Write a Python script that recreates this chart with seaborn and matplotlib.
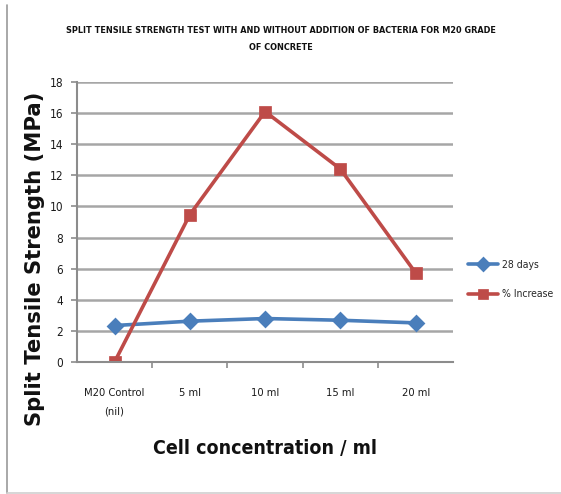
import matplotlib
matplotlib.use("Agg")
import matplotlib.pyplot as plt
from matplotlib.lines import Line2D
import seaborn as sns
import pandas as pd

# Split tensile strength results for M20 concrete with bacterial cells
categories = ["M20 Control\n(nil)", "5 ml", "10 ml", "15 ml", "20 ml"]
strength_28_days = [2.35, 2.63, 2.8, 2.69, 2.52]
percent_increase = [0.0, 9.47, 16.1, 12.41, 5.73]
series_names = ["28 days", "% Increase"]

df = pd.DataFrame({
    "conc": categories * 2,
    "value": strength_28_days + percent_increase,
    "series": [series_names[0]] * 5 + [series_names[1]] * 5,
})

sns.set_style("white")

fig = plt.figure(figsize=(5.61, 4.94), dpi=100)
ax = fig.add_axes([0.137, 0.267, 0.671, 0.567])

sns.pointplot(
    data=df, x="conc", y="value", hue="series", ax=ax,
    palette={"28 days": "#4A7EBB", "% Increase": "#BE4B48"},
    markers=["D", "s"], linestyles=["-", "-"],
    markersize=6.8, linewidth=2.6, errorbar=None,
)

ax.set_ylim(0, 18)
ax.set_xlim(-0.5, 4.5)
ax.set_yticks(range(0, 19, 2))
ax.yaxis.grid(True, color="#a6a6a6", linewidth=1.8)
ax.set_axisbelow(True)
for side in ["top", "right"]:
    ax.spines[side].set_visible(False)
for side in ["left", "bottom"]:
    ax.spines[side].set_color("#8c8c8c")
    ax.spines[side].set_linewidth(1.5)

# category ticks sit between the groups, labels centred on each group
ax.set_xticks([0.5, 1.5, 2.5, 3.5], minor=True)
ax.set_xticks(range(5))
ax.tick_params(axis="x", which="major", length=0, pad=19)
ax.tick_params(axis="x", which="minor", length=4, width=1.2, color="#8c8c8c", direction="out", bottom=True)
ax.tick_params(axis="y", length=4, width=1.2, color="#8c8c8c", direction="out", left=True, pad=6)
ax.set_xticklabels(categories, fontsize=8, color="#1a1a1a", linespacing=2.0,
                   fontstretch="condensed", fontweight="medium")
for lab in ax.get_yticklabels():
    lab.set_fontsize(8.5)
    lab.set_fontstretch("condensed")
    lab.set_color("#1a1a1a")

ax.set_xlabel("Cell concentration / ml", fontsize=14, fontstretch="condensed",
              fontweight="bold", color="#111111")
ax.xaxis.set_label_coords(0.5, -0.275)
ax.set_ylabel("Split Tensile Strength (MPa)", fontsize=15.2,
              fontweight="heavy", color="#111111")
ax.yaxis.set_label_coords(-0.085, 0.37)

fig.text(0.5, 1 - 39 / 494, "SPLIT TENSILE STRENGTH TEST WITH AND WITHOUT ADDITION OF BACTERIA FOR M20 GRADE\nOF CONCRETE",
         ha="center", va="center", fontsize=6.5, fontweight="bold", fontstretch="condensed",
         linespacing=2.1, color="#111111")

leg = ax.legend(loc="center left", bbox_to_anchor=(1.02, 0.295), frameon=False,
                prop={"family": "DejaVu Sans", "stretch": "condensed", "size": 7.5},
                handlelength=2.9, labelspacing=1.9, handletextpad=0.35, markerscale=0.9,
                borderaxespad=0.3)

# outer frame lines
fig.add_artist(Line2D([7 / 561, 7 / 561], [1 - 5 / 494, 1 - 493 / 494], color="#9a9a9a", lw=1.2))
fig.add_artist(Line2D([7 / 561, 1], [1 - 493 / 494, 1 - 493 / 494], color="#d0d0d0", lw=1.2))

fig.savefig("out.png", dpi=100)
